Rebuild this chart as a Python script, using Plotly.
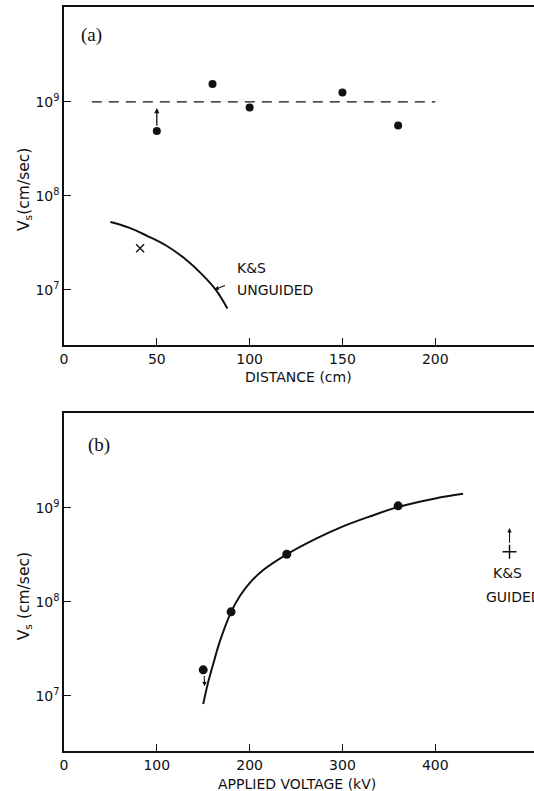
import numpy as np
import plotly.graph_objects as go

# ---------------- Panel (a) data ----------------
a_dist = [50, 80, 100, 150, 180]
a_vs = [4.9e8, 1.55e9, 8.7e8, 1.26e9, 5.6e8]
a_cross_dist = [41]
a_cross_vs = [2.75e7]
a_ref_dist = [15, 200]
a_ref_vs = [1e9, 1e9]
a_ks_dist = [25, 35, 45, 55, 65, 75, 82, 88]
a_ks_vs = [5.25e7, 4.57e7, 3.72e7, 2.95e7, 2.14e7, 1.41e7, 9.8e6, 6.3e6]

# ---------------- Panel (b) data ----------------
b_volt = [150, 180, 240, 360]
b_vs = [1.88e7, 7.8e7, 3.2e8, 1.05e9]
b_fit_volt = [150, 155, 160, 168, 180, 190, 200, 215, 240, 270, 300, 330, 360, 400, 430]
b_fit_vs = [8.13e6, 1.35e7, 2.04e7, 3.8e7, 7.76e7, 1.17e8, 1.58e8, 2.19e8, 3.2e8,
            4.62e8, 6.31e8, 8.13e8, 1.02e9, 1.26e9, 1.41e9]
b_ks_volt = [480]
b_ks_vs = [3.4e8]

y_tickvals = [1e7, 1e8, 1e9]
y_ticktext = ["10<sup>7</sup>", "10<sup>8</sup>", "10<sup>9</sup>"]
a_xticks = [0, 50, 100, 150, 200]
b_xticks = [0, 100, 200, 300, 400]

SANS = "DejaVu Sans"
SERIF = "Liberation Serif"
BLACK = "#111111"

fig = go.Figure()

# panel (a)
fig.add_trace(go.Scatter(x=a_ref_dist, y=a_ref_vs, mode="lines",
                         line=dict(color=BLACK, width=1.3, dash="10px,7px"),
                         xaxis="x", yaxis="y", showlegend=False))
fig.add_trace(go.Scatter(x=a_ks_dist, y=a_ks_vs, mode="lines", line_shape="spline",
                         line=dict(color=BLACK, width=2),
                         xaxis="x", yaxis="y", showlegend=False))
fig.add_trace(go.Scatter(x=a_dist, y=a_vs, mode="markers",
                         marker=dict(color=BLACK, size=8),
                         xaxis="x", yaxis="y", showlegend=False))
fig.add_trace(go.Scatter(x=a_cross_dist, y=a_cross_vs, mode="markers",
                         marker=dict(color=BLACK, size=8, symbol="x-thin",
                                     line=dict(color=BLACK, width=1.4)),
                         xaxis="x", yaxis="y", showlegend=False))

# panel (b)
fig.add_trace(go.Scatter(x=b_fit_volt, y=b_fit_vs, mode="lines", line_shape="spline",
                         line=dict(color=BLACK, width=2),
                         xaxis="x2", yaxis="y2", showlegend=False))
fig.add_trace(go.Scatter(x=b_volt, y=b_vs, mode="markers",
                         marker=dict(color=BLACK, size=9),
                         xaxis="x2", yaxis="y2", showlegend=False))
fig.add_trace(go.Scatter(x=b_ks_volt, y=b_ks_vs, mode="markers",
                         marker=dict(color=BLACK, size=10, symbol="cross-thin",
                                     line=dict(color=BLACK, width=1.5)),
                         xaxis="x2", yaxis="y2", showlegend=False))

axis_common = dict(showline=True, linecolor=BLACK, linewidth=1.5, ticks="inside",
                   ticklen=7, tickwidth=1, tickcolor=BLACK, showgrid=False,
                   zeroline=False, tickfont=dict(family=SANS, size=14, color=BLACK))

# plot area runs a few pixels past the 534-px window so its right edge is cut off,
# as in the reference scan
W = 542
fig.update_layout(
    width=W, height=791,
    margin=dict(l=64, r=0, t=7, b=40),
    paper_bgcolor="white", plot_bgcolor="white",
    xaxis=dict(domain=[0, 1], range=[0, 257.5], tickvals=a_xticks, mirror=True,
               anchor="y", **axis_common),
    yaxis=dict(domain=[0.5457, 1], type="log", range=[6.41, 10.01],
               tickvals=y_tickvals, ticktext=y_ticktext, anchor="x", **axis_common),
    xaxis2=dict(domain=[0, 1], range=[0, 515], tickvals=b_xticks, mirror=True,
                anchor="y2", **axis_common),
    yaxis2=dict(domain=[0, 0.4543], type="log", range=[6.41, 10.01],
                tickvals=y_tickvals, ticktext=y_ticktext, anchor="x2", **axis_common),
)

PW = W - 64  # plot width in px
def px2paper(px):
    return (px - 64) / PW

L = np.log10
ann = []
lbl = dict(family=SANS, size=14, color=BLACK)
ylbl = dict(family=SANS, size=15.5, color=BLACK)
C = dict(xanchor="center", yanchor="middle")
# panel labels
ann.append(dict(text="(a)", x=px2paper(91), y=0.9625, xref="paper", yref="paper",
                showarrow=False, font=dict(family=SERIF, size=19, color=BLACK), **C))
ann.append(dict(text="(b)", x=px2paper(99), y=0.411, xref="paper", yref="paper",
                showarrow=False, font=dict(family=SERIF, size=19, color=BLACK), **C))
# axis titles
ann.append(dict(text="V<sub>s</sub>(cm/sec)", textangle=-90, x=px2paper(25), y=0.754,
                xref="paper", yref="paper", showarrow=False, font=ylbl, **C))
ann.append(dict(text="V<sub>s</sub> (cm/sec)", textangle=-90, x=px2paper(25), y=0.208,
                xref="paper", yref="paper", showarrow=False, font=ylbl, **C))
ann.append(dict(text="DISTANCE (cm)", x=px2paper(298), y=0.5025, xref="paper", yref="paper",
                showarrow=False, font=lbl, **C))
ann.append(dict(text="APPLIED VOLTAGE (kV)", x=px2paper(297), y=-0.0445, xref="paper",
                yref="paper", showarrow=False, font=lbl, **C))
# K&S unguided labels and pointer
ann.append(dict(text="K&S", x=92, y=7.225, xref="x", yref="y", xanchor="left",
                yanchor="middle", showarrow=False, font=lbl))
ann.append(dict(text="UNGUIDED", x=92, y=7.0, xref="x", yref="y", xanchor="left",
                yanchor="middle", showarrow=False, font=lbl))
ann.append(dict(text="", x=81, y=7.0, ax=87.5, ay=7.05, xref="x", yref="y",
                axref="x", ayref="y", showarrow=True, arrowhead=2, arrowsize=0.8,
                arrowwidth=1.1, arrowcolor=BLACK))
# lower-limit arrow at 50 cm
ann.append(dict(text="", x=a_dist[0], y=8.935, ax=a_dist[0], ay=L(a_vs[0]) + 0.04,
                xref="x", yref="y", axref="x", ayref="y", showarrow=True,
                arrowhead=2, arrowsize=0.8, arrowwidth=1.3, arrowcolor=BLACK))
# upper-limit arrow at 150 kV
ann.append(dict(text="", x=b_volt[0] + 1.5, y=7.10, ax=b_volt[0] + 1, ay=L(b_vs[0]) - 0.05,
                xref="x2", yref="y2", axref="x2", ayref="y2", showarrow=True,
                arrowhead=2, arrowsize=0.8, arrowwidth=1.1, arrowcolor=BLACK))
# K&S guided
ann.append(dict(text="", x=b_ks_volt[0], y=8.785, ax=b_ks_volt[0], ay=L(b_ks_vs[0]) + 0.08,
                xref="x2", yref="y2", axref="x2", ayref="y2", showarrow=True,
                arrowhead=2, arrowsize=0.8, arrowwidth=1.1, arrowcolor=BLACK))
ann.append(dict(text="K&S", x=478, y=8.31, xref="x2", yref="y2", showarrow=False,
                font=lbl, **C))
ann.append(dict(text="GUIDED", x=452, y=8.055, xref="x2", yref="y2", xanchor="left",
                yanchor="middle", showarrow=False, font=lbl))

fig.update_layout(annotations=ann)
fig.write_html("out.html", config={"displayModeBar": False},
               post_script="document.body.style.margin='0';"
                           "document.body.style.overflow='hidden';"
                           "document.documentElement.style.overflow='hidden';")
